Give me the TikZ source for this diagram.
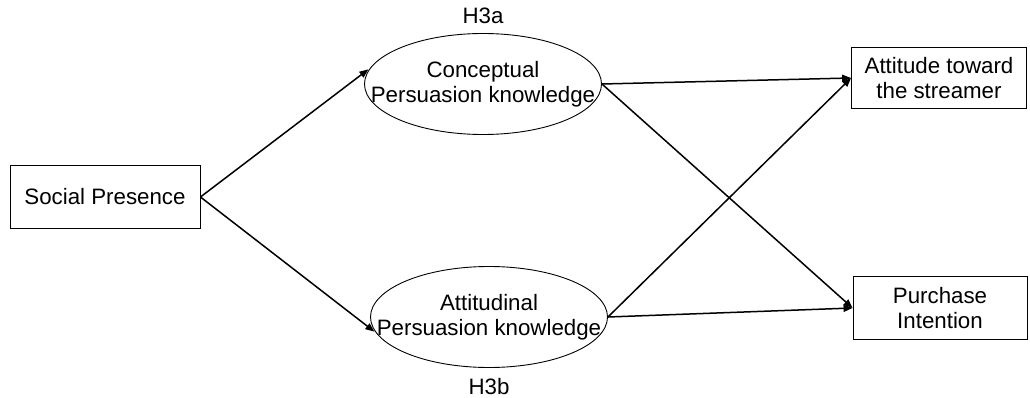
\documentclass[tikz,border=0pt]{standalone}
\usepackage{fontspec}
\setmainfont{Liberation Sans}
\usetikzlibrary{arrows.meta, positioning, shapes.geometric}

\begin{document}
\begin{tikzpicture}[
        x=1pt, y=-1pt,
        txt/.style = {font=\fontsize{22.3}{25.5}\selectfont, align=center},
        var/.style = {rectangle, draw, line width=0.9pt, inner sep=0pt, txt},
        pk/.style = {ellipse, draw, line width=0.9pt, inner sep=0pt, minimum width=237pt, minimum height=101pt},
        pktext/.style = {txt, inner sep=0pt},
        edge/.style = {-{Triangle[length=9pt, width=7pt]}, line width=1.5pt}
    ]
    \useasboundingbox (0,0) rectangle (1030,398);
    \node[var, minimum width=190pt, minimum height=63pt] (sp) at (105,197) {Social Presence};
    \node[pk, label={[pktext]center:Conceptual\\Persuasion knowledge}] (cpk) at (483,84) {};
    \node[pk, label={[pktext]center:Attitudinal\\Persuasion knowledge}] (apk) at (489,317) {};
    \node[var, minimum width=175pt, minimum height=61pt] (att) at (939,78) {Attitude toward\\the streamer};
    \node[var, minimum width=174pt, minimum height=63pt] (pi) at (940,308) {Purchase\\Intention};
    \node[txt, above=6pt of cpk] (h3a) {H3a};
    \node[txt, below=7pt of apk] (h3b) {H3b};

    \draw[edge, shorten >=2pt] (sp.east) -- (cpk.172);
    \draw[edge, shorten >=2pt] (sp.east) -- (apk.188);
    \draw[edge] (cpk.east) -- (att.west);
    \draw[edge] (cpk.east) -- (pi.west);
    \draw[edge] (apk.east) -- (pi.west);
    \draw[edge] (apk.east) -- (att.west);
\end{tikzpicture}
\end{document}
